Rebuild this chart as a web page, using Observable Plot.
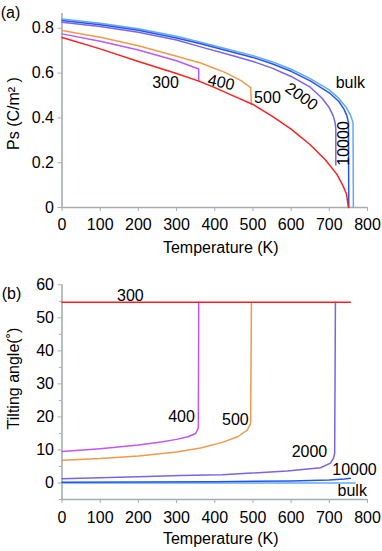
<!DOCTYPE html>
<html><head><meta charset="utf-8">
<script src="https://cdn.jsdelivr.net/npm/d3@7"></script>
<script src="https://cdn.jsdelivr.net/npm/@observablehq/plot@0.6"></script>
<style>
body{margin:0;background:#fff;}
#chart{position:relative;width:382px;height:551px;font-family:"Liberation Sans",Arial,sans-serif;}
#chart > div{position:absolute;left:0;}
</style>
</head><body><div id="chart"><div id="pa" style="top:0"></div><div id="pb" style="top:265px"></div></div>
<script>
// ---------- Panel (a): spontaneous polarization Ps (C/m^2) vs Temperature (K) ----------
const xTicks = [0,100,200,300,400,500,600,700,800];
const psTicks = [0,0.2,0.4,0.6,0.8];

const a300_T = [0,100,200,300,360,400,450,500,550,600,650,690,720,735,745,750];
const a300_P = [0.759,0.708,0.652,0.598,0.563,0.535,0.497,0.46,0.408,0.35,0.28,0.212,0.148,0.1,0.06,0.0];

const a400_T = [0,100,200,300,358,358];
const a400_P = [0.775,0.742,0.703,0.655,0.618,0.564];

const a500_T = [0,100,200,300,363,428,470,494,496];
const a500_P = [0.79,0.76,0.722,0.675,0.645,0.602,0.565,0.535,0.46];

const a2000_T = [0,100,200,300,363,450,500,550,600,650,680,700,710,715,717,717];
const a2000_P = [0.827,0.808,0.782,0.748,0.717,0.676,0.652,0.622,0.585,0.537,0.49,0.445,0.41,0.38,0.35,0.19];

const a10000_T = [0,100,200,300,363,450,500,550,600,650,700,725,738,746,750,751];
const a10000_P = [0.835,0.816,0.791,0.757,0.731,0.692,0.67,0.642,0.608,0.565,0.512,0.473,0.44,0.41,0.38,0.0];

const aBulk_T = [0,100,200,300,363,450,500,550,600,650,700,725,745,756,762,763];
const aBulk_P = [0.842,0.823,0.798,0.764,0.738,0.7,0.678,0.651,0.617,0.575,0.525,0.487,0.445,0.41,0.38,0.0];

const labA_text = ["300","400","500","2000","bulk","10000"];
const labA_T = [271,417,538,627,755,737];
const labA_P = [0.558,0.558,0.49,0.495,0.558,0.286];

// ---------- Panel (b): tilting angle (deg) vs Temperature (K) ----------
const angTicks = [0,10,20,30,40,50,60];
const angMinor = [-5,5,15,25,35,45,55];

const b300_T = [0,755];
const b300_A = [54.7,54.7];

const b400_T = [0,100,200,260,300,330,350,357,358];
const b400_A = [9.5,10.4,11.5,12.4,13.2,14.0,15.0,16.6,54.7];

const b500_T = [0,100,200,300,363,420,460,485,494,496];
const b500_A = [6.9,7.4,8.2,9.4,10.6,12.3,14.0,16.0,18.0,54.7];

const b2000_T = [0,200,310,420,590,677,703,711,714,716];
const b2000_A = [1.3,1.9,2.3,2.5,3.6,4.6,6.0,7.5,9.0,54.7];

const b10000_T = [0,200,400,600,700,740,755];
const b10000_A = [0.2,0.3,0.4,0.6,0.9,1.2,1.4];

const bBulk_T = [0,768];
const bBulk_A = [0,0];

const labB_text = ["300","400","500","2000","10000","bulk"];
const labB_T = [179,313,454,648,766,760];
const labB_A = [56.7,20,19,9.3,3.9,-2.5];

// ---------- styling ----------
const C = {s300:"#ff1f1f", s400:"#c056f5", s500:"#f3994a", s2000:"#7b63ea", s10000:"#2456ee", bulk:"#62aaf4"};
const axisGray = "#a3afb0";
const font = "'Liberation Sans', Arial, sans-serif";
const rotA = {"400":12, "2000":35, "10000":-90};

const rows = (T, V) => T.map((t, i) => ({T: t, v: V[i]}));
const line = (T, V, c) => Plot.line(rows(T, V), {x: "T", y: "v", stroke: c, strokeWidth: 1.5});

const pa = Plot.plot({
  width: 382, height: 265,
  marginLeft: 61.5, marginRight: 15, marginTop: 13, marginBottom: 58,
  style: {fontFamily: font, fontSize: "16px", background: "white", color: "black"},
  x: {domain: [0, 800], label: null},
  y: {domain: [0, 0.866], label: null},
  marks: [
    Plot.ruleX([0], {stroke: axisGray, strokeWidth: 1.6}),
    Plot.ruleY([0], {stroke: axisGray, strokeWidth: 1.6}),
    Plot.axisX(xTicks, {tickSize: 4, tickPadding: 7, stroke: axisGray, fill: "black", label: null, tickFormat: d => String(d)}),
    Plot.axisY(psTicks, {tickSize: 4, tickPadding: 4, stroke: axisGray, fill: "black", label: null, tickFormat: d => String(d)}),
    line(aBulk_T, aBulk_P, C.bulk),
    line(a10000_T, a10000_P, C.s10000),
    line(a2000_T, a2000_P, C.s2000),
    line(a500_T, a500_P, C.s500),
    line(a400_T, a400_P, C.s400),
    line(a300_T, a300_P, C.s300),
    ...labA_text.map((t, i) => Plot.text([t], {x: () => labA_T[i], y: () => labA_P[i], text: d => d, rotate: rotA[t] || 0, fill: "black"})),
    Plot.text(["(a)"], {frameAnchor: "top-left", textAnchor: "middle", lineAnchor: "middle", dx: -51.5, dy: -0.5, fill: "black"}),
    Plot.text(["Ps (C/m\u00B2 )"], {frameAnchor: "left", textAnchor: "middle", lineAnchor: "middle", rotate: -90, dx: -48.5, dy: 3, fill: "black"}),
    Plot.text(["Temperature (K)"], {frameAnchor: "bottom", textAnchor: "middle", lineAnchor: "middle", dx: 6, dy: 40, fill: "black"})
  ]
});
document.getElementById("pa").appendChild(pa);

const pb = Plot.plot({
  width: 382, height: 286,
  marginLeft: 61.5, marginRight: 15, marginTop: 19.3, marginBottom: 52,
  style: {fontFamily: font, fontSize: "16px", background: "white", color: "black"},
  x: {domain: [0, 800], label: null},
  y: {domain: [-5, 60], label: null},
  marks: [
    Plot.ruleX([0], {stroke: axisGray, strokeWidth: 1.6}),
    Plot.ruleY([-5], {stroke: axisGray, strokeWidth: 1.6}),
    Plot.axisX(xTicks, {tickSize: 4, tickPadding: 8, stroke: axisGray, fill: "black", label: null, tickFormat: d => String(d)}),
    Plot.axisY(angTicks, {tickSize: 4, tickPadding: 4, stroke: axisGray, fill: "black", label: null, tickFormat: d => String(d)}),
    Plot.axisY(angMinor, {tickSize: 2.5, stroke: axisGray, fill: "none", label: null}),
    line(bBulk_T, bBulk_A, C.bulk),
    line(b10000_T, b10000_A, C.s10000),
    line(b2000_T, b2000_A, C.s2000),
    line(b500_T, b500_A, C.s500),
    line(b400_T, b400_A, C.s400),
    line(b300_T, b300_A, C.s300),
    ...labB_text.map((t, i) => Plot.text([t], {x: () => labB_T[i], y: () => labB_A[i], text: d => d, fill: "black"})),
    Plot.text(["(b)"], {frameAnchor: "top-left", textAnchor: "middle", lineAnchor: "middle", dx: -50.5, dy: 9.2, fill: "black"}),
    Plot.text(["Tilting angle(\u02DA)"], {frameAnchor: "left", textAnchor: "middle", lineAnchor: "middle", rotate: -90, dx: -48.5, dy: -13.6, fill: "black"}),
    Plot.text(["Temperature (K)"], {frameAnchor: "bottom", textAnchor: "middle", lineAnchor: "middle", dx: 6, dy: 39, fill: "black"})
  ]
});
document.getElementById("pb").appendChild(pb);
</script></body></html>
